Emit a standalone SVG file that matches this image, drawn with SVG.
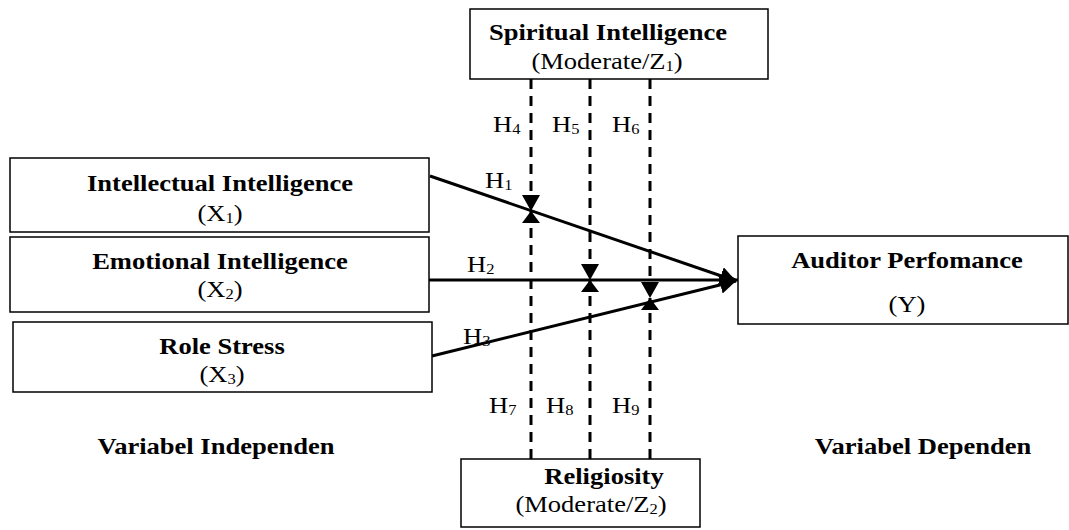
<svg xmlns="http://www.w3.org/2000/svg" width="1069" height="530" viewBox="0 0 1069 530">
<style>
.box{fill:#fff;stroke:#000;stroke-width:1.5}
.t{font-family:"Liberation Serif","Times New Roman",serif;font-size:22.5px;fill:#000}
.b{font-weight:bold}
.sub{font-size:14px}
.solid{stroke:#000;stroke-width:3;fill:none}
.dash{stroke:#000;stroke-width:3;fill:none;stroke-dasharray:10 7}
</style>
<defs>
<marker id="arr" markerUnits="userSpaceOnUse" viewBox="0 0 16 18" markerWidth="16" markerHeight="18" refX="16" refY="9" orient="auto">
<path d="M0,0 L16,9 L0,18 z" fill="#000"/>
</marker>
<marker id="arrS" markerUnits="userSpaceOnUse" viewBox="0 0 12 18" markerWidth="12" markerHeight="18" refX="12" refY="9" orient="auto">
<path d="M0,0 L12,9 L0,18 z" fill="#000"/>
</marker>
</defs>
<rect width="1069" height="530" fill="#fff"/>

<g id="connectors">
<line class="solid" x1="430" y1="176" x2="736" y2="281" marker-end="url(#arr)"/>
<line class="solid" x1="427" y1="280" x2="738" y2="280" marker-end="url(#arr)"/>
<line class="solid" x1="432" y1="356" x2="736" y2="281" marker-end="url(#arr)"/>
<line class="dash" x1="531" y1="79" x2="531" y2="211" marker-end="url(#arr)"/>
<line class="dash" x1="590" y1="79" x2="590" y2="280" marker-end="url(#arr)"/>
<line class="dash" x1="650" y1="79" x2="650" y2="298" marker-end="url(#arr)"/>
<line class="dash" x1="531" y1="459" x2="531" y2="211" marker-end="url(#arrS)"/>
<line class="dash" x1="590" y1="459" x2="590" y2="280" marker-end="url(#arrS)"/>
<line class="dash" x1="650" y1="459" x2="650" y2="298" marker-end="url(#arrS)"/>
<text class="t" transform="translate(485,188) scale(1.18,1)">H<tspan class="sub" dy="2">1</tspan></text>
<text class="t" transform="translate(467,272) scale(1.18,1)">H<tspan class="sub" dy="2">2</tspan></text>
<text class="t" transform="translate(463,344) scale(1.18,1)">H<tspan class="sub" dy="2">3</tspan></text>
<text class="t" transform="translate(493,132) scale(1.18,1)">H<tspan class="sub" dy="2">4</tspan></text>
<text class="t" transform="translate(552,132) scale(1.18,1)">H<tspan class="sub" dy="2">5</tspan></text>
<text class="t" transform="translate(612,132) scale(1.18,1)">H<tspan class="sub" dy="2">6</tspan></text>
<text class="t" transform="translate(489,413) scale(1.18,1)">H<tspan class="sub" dy="2">7</tspan></text>
<text class="t" transform="translate(546,413) scale(1.18,1)">H<tspan class="sub" dy="2">8</tspan></text>
<text class="t" transform="translate(612,413) scale(1.18,1)">H<tspan class="sub" dy="2">9</tspan></text>
</g>

<g id="spiritual">
<rect class="box" x="470" y="9" width="298" height="70"/>
<text class="t b" text-anchor="middle" transform="translate(608,40) scale(1.18,1)">Spiritual Intelligence</text>
<text class="t" text-anchor="middle" transform="translate(607,69) scale(1.18,1)">(Moderate/Z<tspan class="sub" dy="2">1</tspan><tspan dy="-2">)</tspan></text>
</g>

<g id="intellectual">
<rect class="box" x="10" y="158" width="419" height="74"/>
<text class="t b" text-anchor="middle" transform="translate(220,191) scale(1.18,1)">Intellectual Intelligence</text>
<text class="t" text-anchor="middle" transform="translate(220,221) scale(1.18,1)">(X<tspan class="sub" dy="2">1</tspan><tspan dy="-2">)</tspan></text>
</g>

<g id="emotional">
<rect class="box" x="10" y="237" width="419" height="75"/>
<text class="t b" text-anchor="middle" transform="translate(220,269) scale(1.18,1)">Emotional Intelligence</text>
<text class="t" text-anchor="middle" transform="translate(220,297) scale(1.18,1)">(X<tspan class="sub" dy="2">2</tspan><tspan dy="-2">)</tspan></text>
</g>

<g id="rolestress">
<rect class="box" x="13" y="322" width="419" height="70"/>
<text class="t b" text-anchor="middle" transform="translate(222,354) scale(1.18,1)">Role Stress</text>
<text class="t" text-anchor="middle" transform="translate(222,382) scale(1.18,1)">(X<tspan class="sub" dy="2">3</tspan><tspan dy="-2">)</tspan></text>
</g>

<g id="auditor">
<rect class="box" x="738" y="236" width="330" height="88"/>
<text class="t b" text-anchor="middle" transform="translate(907,268) scale(1.18,1)">Auditor Perfomance</text>
<text class="t" text-anchor="middle" transform="translate(907,312) scale(1.18,1)">(Y)</text>
</g>

<g id="religiosity">
<rect class="box" x="461" y="459" width="239" height="68"/>
<text class="t b" text-anchor="middle" transform="translate(604,484) scale(1.18,1)">Religiosity</text>
<text class="t" text-anchor="middle" transform="translate(591,512) scale(1.18,1)">(Moderate/Z<tspan class="sub" dy="2">2</tspan><tspan dy="-2">)</tspan></text>
</g>

<g id="labels">
<text class="t b" text-anchor="middle" transform="translate(216,454) scale(1.18,1)">Variabel Independen</text>
<text class="t b" text-anchor="middle" transform="translate(923,454) scale(1.18,1)">Variabel Dependen</text>
</g>
</svg>
